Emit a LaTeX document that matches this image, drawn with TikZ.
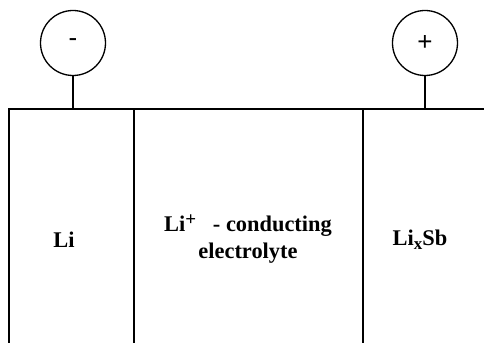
\documentclass[tikz,border=0pt]{standalone}
\usepackage{fontspec}
\setmainfont{Liberation Serif}
\newfontfamily\signfont{Liberation Sans}
\usetikzlibrary{positioning}
\newcommand{\upsign}[1]{\raisebox{.6ex}{\fontsize{9.5}{9.5}\selectfont #1}}
\newcommand{\downsign}[1]{\raisebox{-.35ex}{\fontsize{8.5}{8.5}\selectfont #1}}
\tikzset{
  terminal/.style={draw,circle,line width=0.65pt,minimum size=32.5pt,inner sep=0pt,font=\signfont\fontsize{13}{14}\selectfont},
  wall/.style={line width=1pt},
  cellname/.style={align=center,font=\bfseries\fontsize{11.2}{13.5}\selectfont,inner sep=0pt}
}
\begin{document}
\begin{tikzpicture}[x=0.5pt,y=0.5pt]
\useasboundingbox (0,0) rectangle (484,343);
% terminals
\node[terminal] (neg) at (73,300) {-};
\node[terminal] (pos) at (425,300) {+};
% cell walls
\coordinate (tl) at (9,234);
\coordinate (tr) at (484,234);
\coordinate (m1) at (134,234);
\coordinate (m2) at (363,234);
\coordinate (bl) at (9,0);
\coordinate (b1) at (134,0);
\coordinate (b2) at (363,0);
\draw[wall] (bl) -- (tl) -- (tr);
\draw[wall] (m1) -- (b1);
\draw[wall] (m2) -- (b2);
\draw[line width=0.65pt] (neg.south) -- (neg.south |- tl);
\draw[line width=0.65pt] (pos.south) -- (pos.south |- tl);
% labels
\node[cellname] (anode) at (64,103) {Li};
\node[cellname] (elyte) at (248,104) {Li\upsign{+}\ \ \ - conducting\\electrolyte};
\node[cellname] (cathode) at (420,103) {Li\downsign{x}Sb};
\end{tikzpicture}
\end{document}
